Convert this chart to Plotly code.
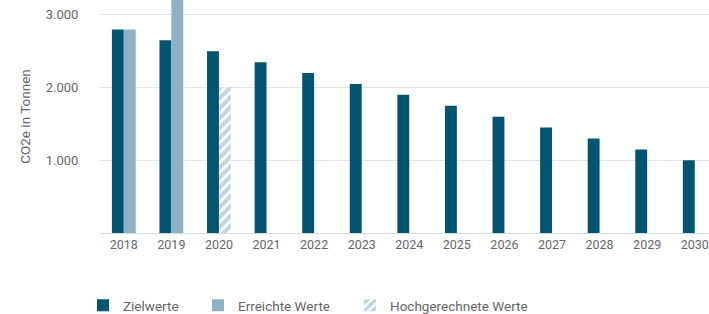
import plotly.graph_objects as go

years = ["2018", "2019", "2020", "2021", "2022", "2023", "2024", "2025",
         "2026", "2027", "2028", "2029", "2030"]
zielwerte = [2800, 2650, 2500, 2350, 2200, 2050, 1900, 1750, 1600, 1450, 1300, 1150, 1000]
erreicht_years = ["2018", "2019"]
erreicht_values = [2800, 3300]
hoch_years = ["2020"]
hoch_values = [2000]
y_ticks = [1000, 2000, 3000]

DARK = "#005571"
LIGHT = "#8fb1c3"
TXT = "#666666"
FONT = "Roboto, Arial, sans-serif"

fig = go.Figure()
fig.add_trace(go.Bar(x=years, y=zielwerte, name="Zielwerte", marker_color=DARK,
                     marker_line_width=0, offsetgroup="a", legend="legend"))
fig.add_trace(go.Bar(x=erreicht_years, y=erreicht_values, name="Erreichte Werte",
                     marker_color=LIGHT, marker_line_width=0, offsetgroup="b",
                     legend="legend2"))
fig.add_trace(go.Bar(x=hoch_years, y=hoch_values, name="Hochgerechnete Werte",
                     marker=dict(color="white", line_width=0,
                                 pattern=dict(shape="/", fgcolor="#85a9bd", bgcolor="white",
                                              size=7, solidity=0.6)),
                     offsetgroup="b", legend="legend3"))

def leg(xpx):
    return dict(orientation="h", xref="container", yref="container",
                x=xpx / 709, y=(314 - 305.5) / 314, xanchor="left", yanchor="middle",
                font=dict(size=13.5, color=TXT, family=FONT),
                bgcolor="rgba(0,0,0,0)")

fig.update_layout(
    width=709, height=314,
    margin=dict(l=100, r=0, t=0, b=81, autoexpand=False),
    barmode="group", bargap=0.5, bargroupgap=0,
    separators=",.",
    plot_bgcolor="white", paper_bgcolor="white",
    font=dict(family=FONT, size=12.5, color=TXT),
    showlegend=True,
    legend=leg(83), legend2=leg(198), legend3=leg(350),
    xaxis=dict(type="category", range=[-0.5, 12.3], showgrid=False,
               showline=True, linecolor="#d9d9d9", linewidth=1,
               ticks="", tickfont=dict(size=12.5, color=TXT)),
    yaxis=dict(range=[0, 3205], tickvals=y_ticks, tickformat=",d",
               showgrid=True, gridcolor="#e3e3e3", gridwidth=1, zeroline=False,
               showline=False, ticks="outside", ticklen=18, tickcolor="rgba(0,0,0,0)",
               tickfont=dict(size=13, color=TXT),
               title=dict(text="CO2e in Tonnen", standoff=12,
                          font=dict(size=13.5, color=TXT))),
)

fig.write_html("out.html", config={"displayModeBar": False},
               post_script="document.body.style.margin='0';")
